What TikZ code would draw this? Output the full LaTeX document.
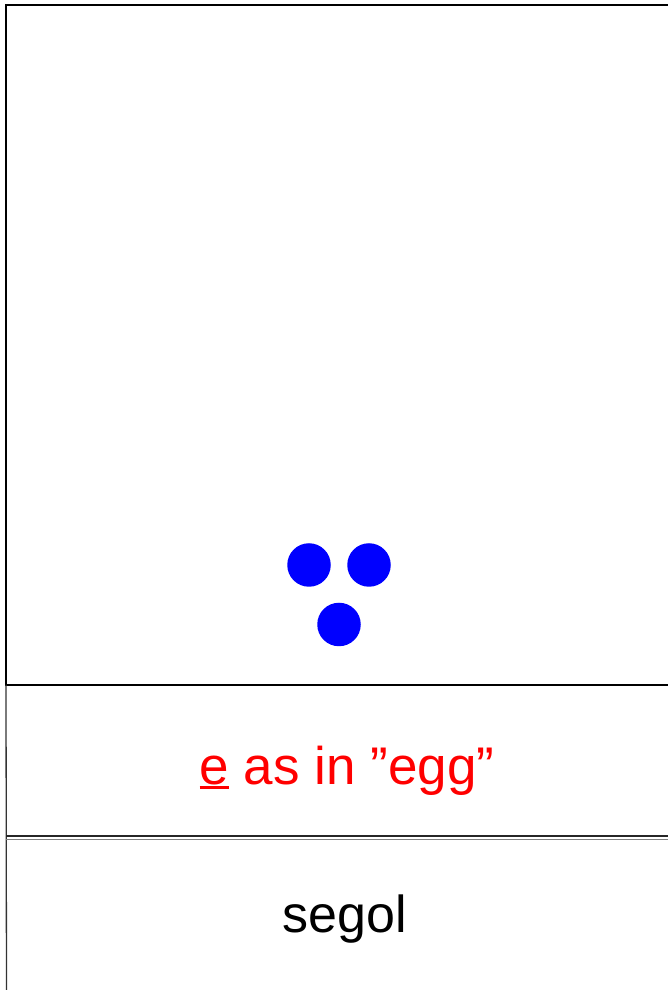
\documentclass[tikz,border=0pt]{standalone}
\usepackage{fontspec}
\setmainfont{Liberation Sans}
\usepackage{xcolor}
\usetikzlibrary{positioning}
\definecolor{dotblue}{rgb}{0,0,1}
\definecolor{soundred}{rgb}{1,0,0}
\definecolor{rulegray}{rgb}{0.5,0.5,0.5}
% underline one letter with a rule of its own
\newcommand{\sndmark}[1]{\setbox0\hbox{#1}\rlap{\vrule width\wd0 height -1pt depth 3.7pt}#1}

\begin{document}
\begin{tikzpicture}[
  x=1pt, y=1pt,
  dot/.style={circle, fill=dotblue, inner sep=0pt, minimum size=43.5pt},
  lbl/.style={font=\fontsize{52}{60}\selectfont, anchor=base},
  frame/.style={line width=2.5pt, black},
  thinrule/.style={line width=1.3pt, black!80},
]
\useasboundingbox (0,0) rectangle (668,990);
\clip (0,0) rectangle (668,990);

%% ---- Sign frame ----
\coordinate (tl) at (6,985);
\coordinate (tr) at (690,985);
\coordinate (bl) at (6,305);
\coordinate (br) at (690,305);
\coordinate (foot) at (6.5,-5);
\draw[frame] (tr) -- (tl) -- (bl) -- (br);
\draw[thinrule] (bl) -- (foot);

%% ---- Double rule between rows ----
\coordinate (sepl) at (6,154);
\coordinate (sepr) at (690,154);
\draw[line width=1.3pt, black!85] (sepl) -- (sepr);
\draw[line width=1.8pt, rulegray] ([yshift=-3.5pt]sepl) -- ([yshift=-3.5pt]sepr);

%% ---- Vowel points ----
\node[dot] (dotl) at (309,425) {};
\node[dot] (dotr) at (369,425) {};
\node[dot] (dotb) at (339,365.5) {};

%% ---- Rows ----
\node[lbl, text=soundred, font=\fontsize{53}{60}\selectfont] (sound) at (347,205) {\sndmark{e} as in ”egg”};
\node[lbl] (name) at (345,57) {segol};

\end{tikzpicture}
\end{document}
